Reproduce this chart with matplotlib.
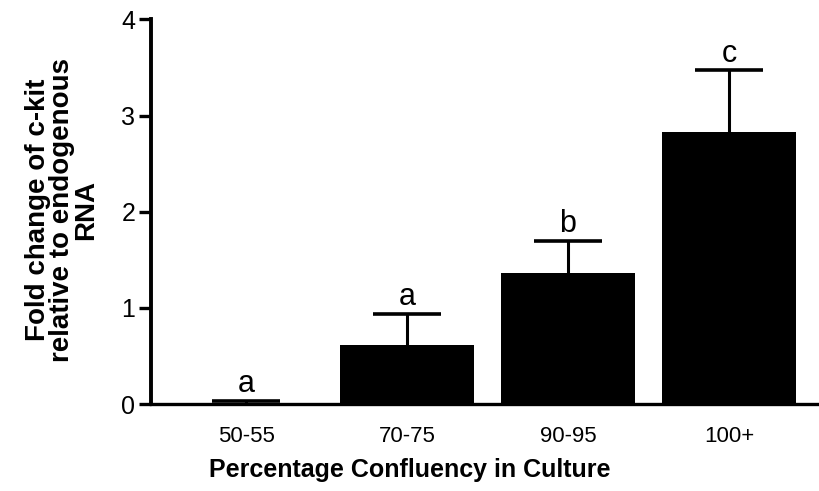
import numpy as np
import matplotlib
matplotlib.use("Agg")
import matplotlib.pyplot as plt

groups = ["50-55", "70-75", "90-95", "100+"]
fold = [0.01, 0.61, 1.365, 2.83]
err_up = [0.025, 0.33, 0.335, 0.64]
letters = ["a", "a", "b", "c"]

plt.rcParams['font.family'] = ['Liberation Sans', 'DejaVu Sans']

fig = plt.figure(figsize=(8.19, 4.91), dpi=100)
ax = fig.add_axes([0.184, 0.177, 0.816, 0.7835])

x = np.arange(len(groups))
ax.bar(x, fold, width=0.83, color='black', linewidth=0, zorder=2)
eb = ax.errorbar(x, fold, yerr=[np.zeros(len(fold)), err_up], fmt='none',
                 ecolor='black', elinewidth=2.2, capsize=24.8, capthick=2.6, zorder=1)
# only the upper cap is wanted
eb[1][0].set_visible(False)

for xi, f, e, lab in zip(x, fold, err_up, letters):
    ax.annotate(lab, (xi, f + e), xytext=(0, 6), textcoords='offset points',
                ha='center', va='baseline', fontsize=22)

ax.set_xlim(-0.592, 3.559)
ax.set_ylim(0, 4)
ax.set_yticks([0, 1, 2, 3, 4])
ax.set_xticks(x)
ax.set_xticklabels(groups, fontsize=16)
ax.tick_params(axis='x', length=0, pad=16)
ax.tick_params(axis='y', length=9, width=2.4, labelsize=18, pad=2)

for s in ['top', 'right']:
    ax.spines[s].set_visible(False)
ax.spines['left'].set_linewidth(2.8)
ax.spines['bottom'].set_linewidth(2.4)

fig.text(410 / 819, 1 - 470 / 491, 'Percentage Confluency in Culture',
         ha='center', va='center', fontsize=18, fontweight='bold')
fig.text(62 / 819, 1 - 210 / 491,
         'Fold change of c-kit\nrelative to endogenous\nRNA',
         rotation=90, ha='center', va='center', multialignment='center',
         fontsize=20, fontweight='bold', linespacing=0.9)

fig.savefig('out.png', dpi=100)
